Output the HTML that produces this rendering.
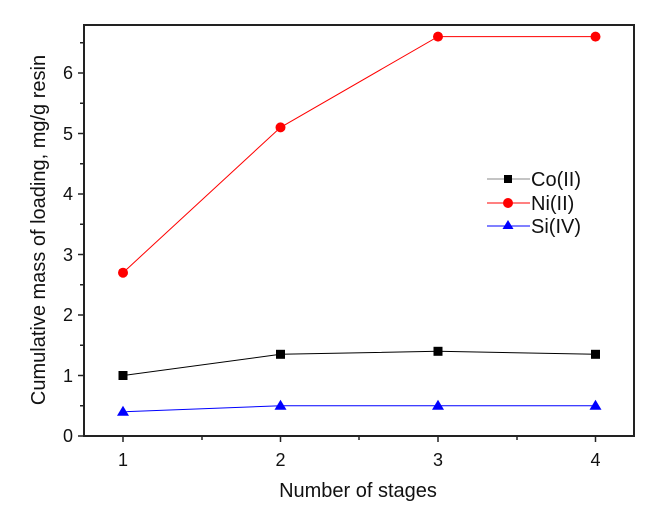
<html><body style="margin:0;background:#fff">
<svg width="664" height="517" xmlns="http://www.w3.org/2000/svg" font-family="Liberation Sans, Arial, sans-serif">
<rect x="84" y="25" width="550" height="411" fill="none" stroke="#222" stroke-width="2"/>
<g stroke="#222" stroke-width="1.5">
<line x1="78" y1="436" x2="84" y2="436"/><line x1="78" y1="375.5" x2="84" y2="375.5"/><line x1="78" y1="315" x2="84" y2="315"/><line x1="78" y1="254.5" x2="84" y2="254.5"/><line x1="78" y1="194" x2="84" y2="194"/><line x1="78" y1="133.5" x2="84" y2="133.5"/><line x1="78" y1="73" x2="84" y2="73"/>
<line x1="80" y1="405.75" x2="84" y2="405.75"/><line x1="80" y1="345.25" x2="84" y2="345.25"/><line x1="80" y1="284.75" x2="84" y2="284.75"/><line x1="80" y1="224.25" x2="84" y2="224.25"/><line x1="80" y1="163.75" x2="84" y2="163.75"/><line x1="80" y1="103.25" x2="84" y2="103.25"/><line x1="80" y1="42.75" x2="84" y2="42.75"/>
<line x1="123" y1="436" x2="123" y2="442"/><line x1="280.5" y1="436" x2="280.5" y2="442"/><line x1="438" y1="436" x2="438" y2="442"/><line x1="595.5" y1="436" x2="595.5" y2="442"/>
<line x1="202" y1="436" x2="202" y2="440"/><line x1="359" y1="436" x2="359" y2="440"/><line x1="517" y1="436" x2="517" y2="440"/>
</g>
<g font-size="18" fill="#111" text-anchor="end">
<text x="73" y="442">0</text><text x="73" y="382">1</text><text x="73" y="321">2</text><text x="73" y="261">3</text><text x="73" y="200">4</text><text x="73" y="140">5</text><text x="73" y="79">6</text>
</g>
<g font-size="18" fill="#111" text-anchor="middle">
<text x="123" y="466">1</text><text x="280.5" y="466">2</text><text x="438" y="466">3</text><text x="595.5" y="466">4</text>
<text x="358" y="497" font-size="20">Number of stages</text>
<text transform="translate(45,230) rotate(-90)" font-size="20">Cumulative mass of loading, mg/g resin</text>
</g>
<polyline points="123,272.7 280.5,127.4 438,36.6 595.5,36.6" fill="none" stroke="#f00" stroke-width="1"/>
<polyline points="123,375.5 280.5,354.3 438,351.3 595.5,354.3" fill="none" stroke="#000" stroke-width="1"/>
<polyline points="123,411.8 280.5,405.75 438,405.75 595.5,405.75" fill="none" stroke="#00f" stroke-width="1"/>
<g fill="#f00"><circle cx="123" cy="272.7" r="5"/><circle cx="280.5" cy="127.4" r="5"/><circle cx="438" cy="36.6" r="5"/><circle cx="595.5" cy="36.6" r="5"/></g>
<g fill="#000"><rect x="118.5" y="371" width="9" height="9"/><rect x="276" y="349.8" width="9" height="9"/><rect x="433.5" y="346.8" width="9" height="9"/><rect x="591" y="349.8" width="9" height="9"/></g>
<g fill="#00f"><path d="M123,405.8 l-6,10 h12z"/><path d="M280.5,399.7 l-6,10 h12z"/><path d="M438,399.7 l-6,10 h12z"/><path d="M595.5,399.7 l-6,10 h12z"/></g>
<line x1="487" y1="179" x2="530" y2="179" stroke="#888"/><rect x="504" y="175" width="8" height="8"/>
<line x1="487" y1="203" x2="530" y2="203" stroke="#f00"/><circle cx="508" cy="203" r="5" fill="#f00"/>
<line x1="487" y1="226" x2="530" y2="226" stroke="#00f"/><path d="M508,220 l-5.5,9 h11z" fill="#00f"/>
<g font-size="20" fill="#111"><text x="531" y="186">Co(II)</text><text x="531" y="210">Ni(II)</text><text x="531" y="233">Si(IV)</text></g>
</svg>
</body></html>
